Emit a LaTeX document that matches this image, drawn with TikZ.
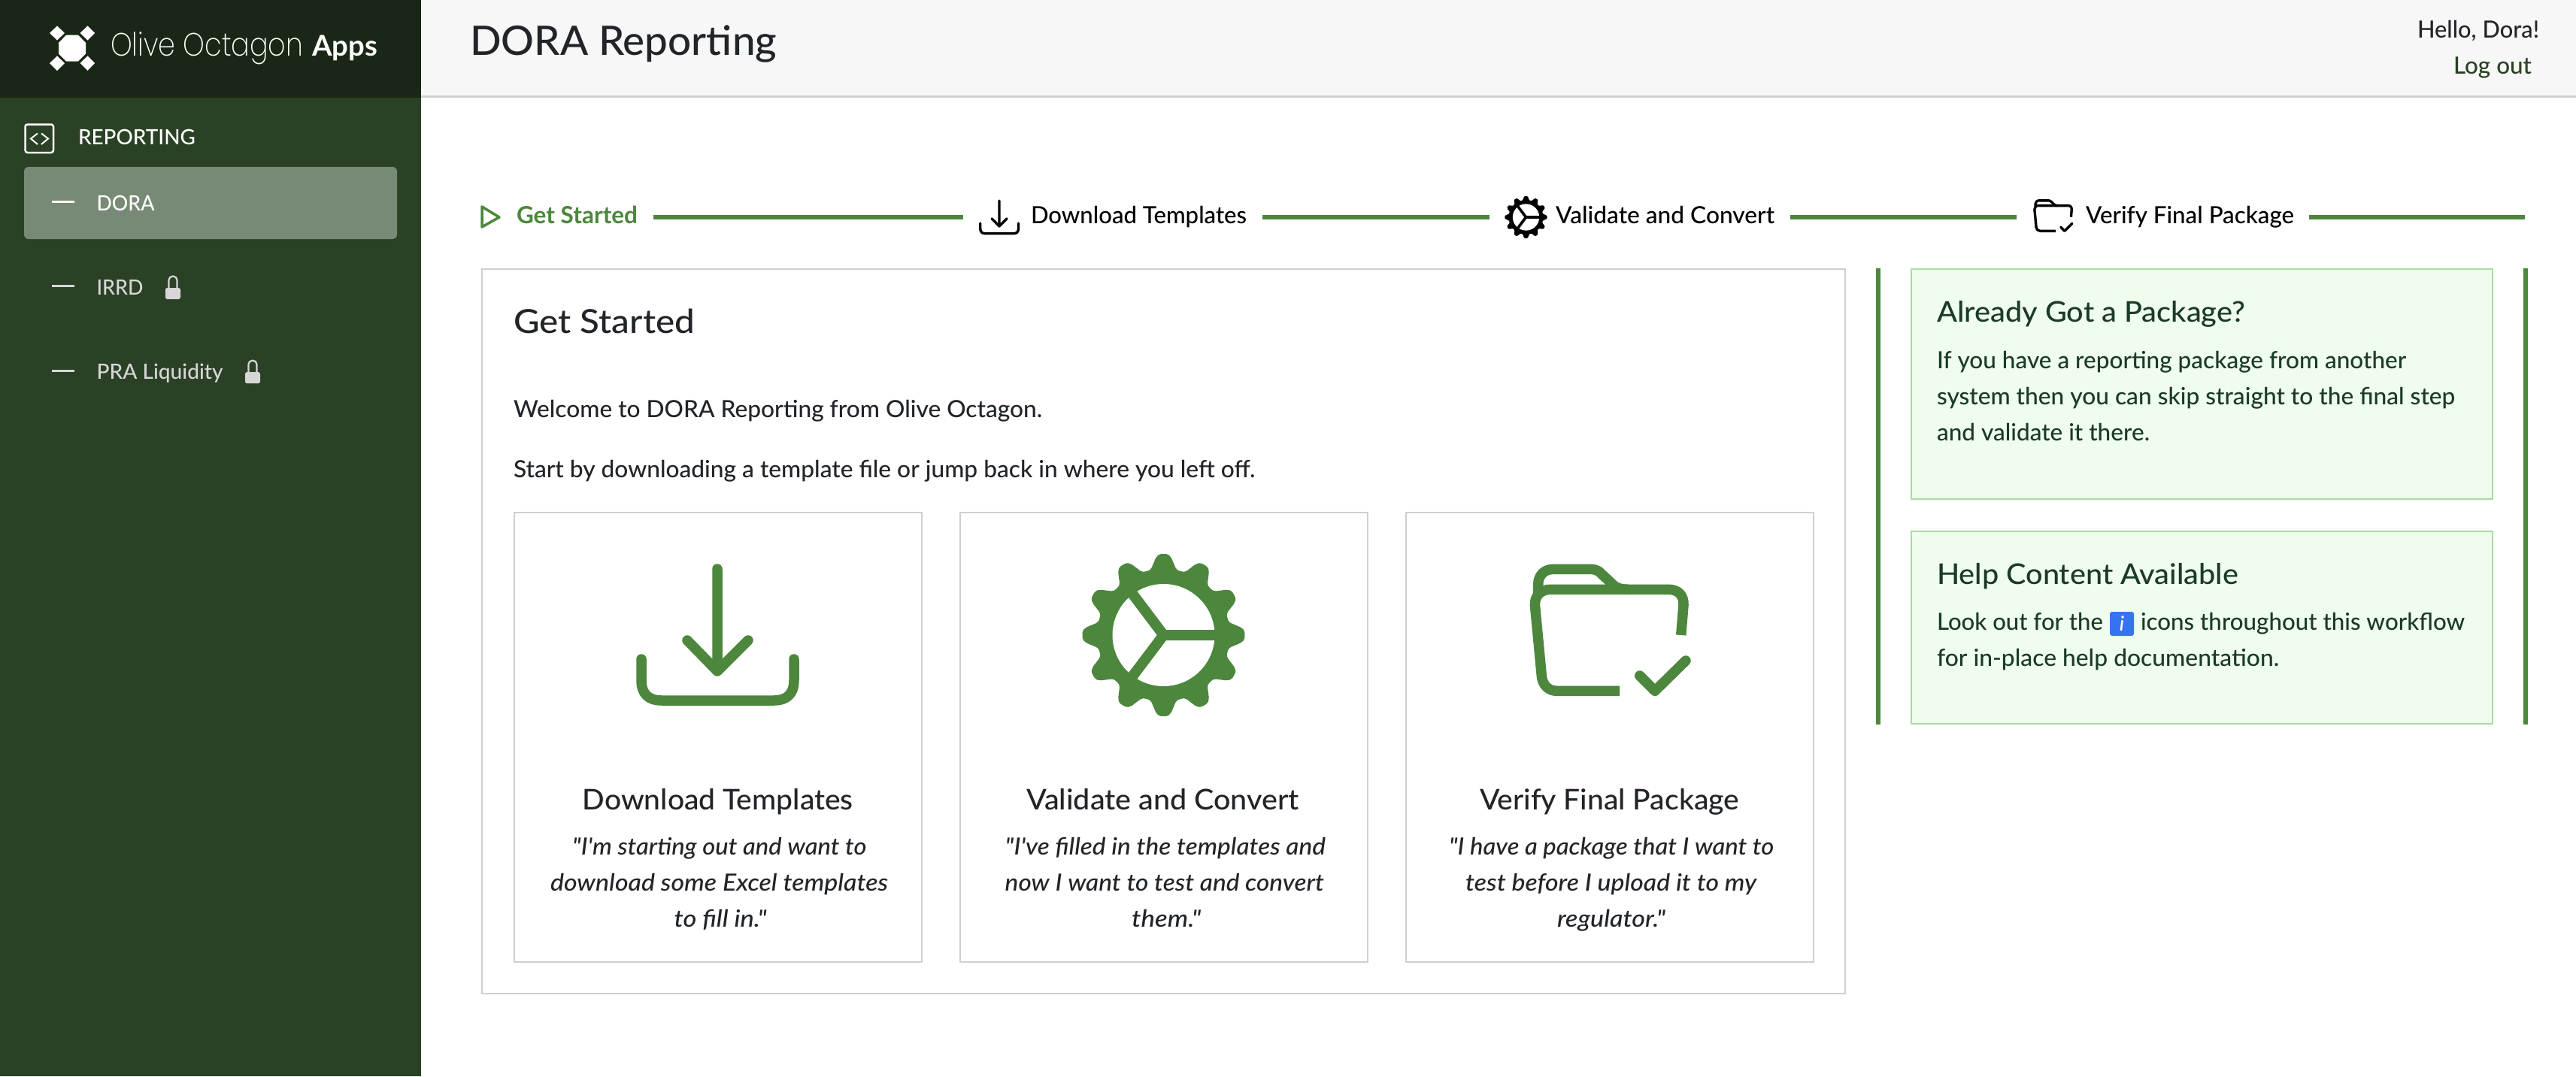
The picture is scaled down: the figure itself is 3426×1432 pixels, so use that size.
\documentclass[tikz,border=0pt]{standalone}
\usepackage{fontspec}
\usepackage{graphicx}
\newfontfamily\lato{Lato Medium}[ItalicFont={Lato Medium Italic},BoldFont={Lato Bold}]
\newfontfamily\thinfont{Poppins ExtraLight}
\definecolor{sidebar}{HTML}{2A4125}
\definecolor{sidetop}{HTML}{1A2716}
\definecolor{sidehi}{HTML}{778A75}
\definecolor{brand}{HTML}{4C873D}
\definecolor{greenfill}{HTML}{EFFEEC}
\definecolor{greenedge}{HTML}{A8DDA0}
\definecolor{inktext}{HTML}{212529}
\definecolor{boxtext}{HTML}{1B3A27}
\definecolor{edgegrey}{HTML}{CFCFCF}
\definecolor{navgrey}{HTML}{D6D6D6}
\definecolor{headbg}{HTML}{F7F7F7}
\definecolor{infoblue}{HTML}{3573F0}
\makeatletter
\newcommand\fitw[2]{\setbox0=\hbox{#2}\dimen0=\wd0 \edef\fw{\strip@pt\dimen0}\scalebox{\fpeval{#1/\fw}}[1]{\box0}}
\makeatother
\newcommand\fsz[1]{\fontsize{#1}{#1}\selectfont}
\tikzset{
  x=1pt,y=-1pt,
  declare function={gc(\a)=(cos(12*\a)+1)/2; gr(\a)=88+20*(3*gc(\a)^2-2*gc(\a)^3);},
  lbl/.style={inner sep=0pt,outer sep=0pt,anchor=base west,text=inktext},
  lblc/.style={lbl,anchor=base},
  stepl/.style={lbl,font=\lato\fsz{31.5},text=black},
  cardt/.style={lblc,font=\lato\fsz{38}},
  quote/.style={lblc,font=\lato\itshape\fsz{31.5}},
  boxh/.style={lbl,font=\lato\fsz{38},text=boxtext},
  boxb/.style={lbl,font=\lato\fsz{31.5},text=boxtext},
  nav/.style={lbl,font=\lato\fsz{28},text=white},
  navoff/.style={nav,text=navgrey},
  stepline/.style={draw=brand,line width=6pt},
  card/.style={draw=edgegrey,line width=2pt,fill=white},
  sidebar rule/.style={draw=brand,line width=5.5pt},
  greenbox/.style={draw=greenedge,line width=2.5pt,fill=greenfill},
}
\newcommand\dlicon[4]{\begin{scope}[shift={(#1,#2)},scale=#3]
  \draw[#4,line width=\fpeval{13.5*#3}pt,line cap=round,line join=round]
    (0,-88)--(0,48) (-40,7)--(0,48)--(41,7)
    (-101,32)--(-101,60) .. controls (-101,78) and (-92,87) .. (-74,87)
    -- (75,87) .. controls (93,87) and (102,78) .. (102,60) -- (102,32);
\end{scope}}
\newcommand\gearicon[4]{\begin{scope}[shift={(#1,#2)},scale=#3]
  \fill[#4] plot[samples at={0,2,...,358}] (\x:{gr(\x)}) -- cycle;
  \fill[white] (0,0) circle[radius=68];
  \draw[#4,line width=\fpeval{14*#3}pt] (72,0)--(0,0) (127:72)--(0,0)--(-127:72);
\end{scope}}
\newcommand\foldericon[4]{\begin{scope}[shift={(#1,#2)},scale=#3]
  \draw[#4,line width=\fpeval{13.5*#3}pt,line join=round]
    (93.7,7)--(97,-33) .. controls (97.5,-46) and (90,-53.7) .. (77,-53.7)
    -- (-80,-53.7) .. controls (-93,-53.7) and (-101,-45) .. (-100.6,-33)
    -- (-91.6,62) .. controls (-90.5,73) and (-83,81.3) .. (-71.3,81.3) -- (12,81.3);
  \draw[#4,line width=\fpeval{13.5*#3}pt,line join=round]
    (-96.3,-48)--(-96.3,-60) .. controls (-96.3,-72) and (-89,-80.7) .. (-75.6,-80.7)
    -- (-26.6,-80.7) .. controls (-20,-80.7) and (-15,-78) .. (-12.4,-74.7)
    -- (5.5,-58) .. controls (10,-55) and (16,-53.7) .. (23.4,-53.7);
  \draw[#4,line width=\fpeval{13.5*#3}pt,line cap=round,line join=round]
    (38.7,61)--(59,81.3)--(100,41);
\end{scope}}
\newcommand\lockicon[2]{
  \fill[navgrey,rounded corners=2.5pt] (#1,#2+16.5) rectangle (#1+20,#2+31.5);
  \draw[navgrey,line width=2.2pt] (#1+4.5,#2+18) -- (#1+4.5,#2+6) arc[start angle=180,end angle=0,x radius=5.5,y radius=-5] -- (#1+15.5,#2+18);
}
\begin{document}
\begin{tikzpicture}
\useasboundingbox (0,0) rectangle (3426,1432);
\fill[white] (0,0) rectangle (3426,1432);
% header
\fill[headbg] (560,0) rectangle (3426,128);
\fill[edgegrey] (560,127) rectangle (3426,130);
\node[lbl,font=\lato\fsz{54}] (title) at (625,73) {\fitw{408}{DORA Reporting}};
\node[lbl,font=\lato\fsz{31.5}] (hello) at (3215,50) {\fitw{162}{Hello, Dora!}};
\node[lbl,font=\lato\fsz{31.5},text=sidebar] (logout) at (3263,98) {\fitw{104}{Log out}};
% sidebar
\fill[sidebar] (0,0) rectangle (560,1432);
\fill[sidetop] (0,0) rectangle (560,130);
\fill[white] (78,57)--(88,46.5)--(104,46.5)--(114,57)--(114,71.5)--(104,81.7)--(88,81.7)--(78,71.5)--cycle;
\fill[white] (66,44)--(76,34.5)--(86,44)--(76,53.5)--cycle;
\fill[white] (106.5,44)--(116.5,34.5)--(126,44)--(116.5,53.5)--cycle;
\fill[white] (66,84)--(76,74.5)--(86,84)--(76,94)--cycle;
\fill[white] (106.5,84)--(116.5,74.5)--(126,84)--(116.5,94)--cycle;
\node[lbl,font=\thinfont\fsz{43},text=white] (brand1) at (147,74) {\fitw{256}{Olive Octagon}};
\node[lbl,font=\lato\bfseries\fsz{38},text=white] (brand2) at (415,74) {\fitw{87}{Apps}};
\draw[white,line width=2.5pt,rounded corners=3pt] (33.5,165.5) rectangle (71,203);
\draw[white,line width=2pt] (50,177.5)--(41,184.5)--(50,192) (55,177.5)--(64,184.5)--(55,192);
\node[nav] (navrep) at (104,192.5) {\fitw{156}{REPORTING}};
\fill[sidehi,rounded corners=6pt] (32,222) rectangle (528,318);
\draw[white,line width=3pt] (69,268)--(99,268);
\node[nav] (navdora) at (128.6,280) {\fitw{77}{DORA}};
\draw[navgrey,line width=3pt] (69,380)--(99,380);
\node[navoff] (navirrd) at (128.6,392) {\fitw{62}{IRRD}};
\lockicon{220}{366.5}
\draw[navgrey,line width=3pt] (69,493)--(99,493);
\node[navoff] (navpra) at (128.6,504.5) {\fitw{168}{PRA Liquidity}};
\lockicon{326}{478.6}
% stepper
\coordinate (stepy) at (0,289);
\coordinate (iconDL) at (1302,289);
\coordinate (iconGR) at (2002,289);
\coordinate (iconFO) at (2704,289);
\coordinate (stepend) at (3358,289);
\draw[brand,line width=3.5pt,line join=round] (641,275)--(664,289)--(641,302)--cycle;
\node[stepl,text=brand,font=\lato\bfseries\fsz{31.5}] (s1) at (687,297) {\fitw{161}{Get Started}};
\dlicon{1329}{289}{0.25}{black}
\node[stepl] (s2) at (1371,297) {\fitw{287}{Download Templates}};
\gearicon{2029.5}{289}{0.26}{black}
\node[stepl] (s3) at (2069,297) {\fitw{291}{Validate and Convert}};
\foldericon{2731}{287}{0.25}{black}
\node[stepl] (s4) at (2774,297) {\fitw{277}{Verify Final Package}};
\draw[stepline] ([xshift=21pt]s1.east |- stepy) -- ([xshift=-21pt]iconDL);
\draw[stepline] ([xshift=21pt]s2.east |- stepy) -- ([xshift=-21pt]iconGR);
\draw[stepline] ([xshift=21pt]s3.east |- stepy) -- ([xshift=-22pt]iconFO);
\draw[stepline] ([xshift=20pt]s4.east |- stepy) -- (stepend);
% main panel
\draw[card] (641,358) rectangle (2454,1322);
\node[lbl,font=\lato\fsz{44}] (h1) at (683,443) {\fitw{241}{Get Started}};
\node[lbl,font=\lato\fsz{31.5}] (p1) at (683,555) {\fitw{703}{Welcome to DORA Reporting from Olive Octagon.}};
\node[lbl,font=\lato\fsz{31.5}] (p2) at (683,635) {\fitw{986}{Start by downloading a template file or jump back in where you left off.}};
\draw[card] (683.5,682) rectangle (1226,1280);
\draw[card] (1276.5,682) rectangle (1819,1280);
\draw[card] (1869.5,682) rectangle (2412,1280);
\dlicon{954}{845}{1}{brand}
\gearicon{1547.5}{845}{1}{brand}
\foldericon{2142}{838}{1}{brand}
\node[cardt] (c1t) at (954.7,1077) {\fitw{360}{Download Templates}};
\node[quote] (c1a) at (956.7,1137) {\fitw{391}{"I'm starting out and want to}};
\node[quote] (c1b) at (956.5,1185) {\fitw{449}{download some Excel templates}};
\node[quote] (c1c) at (958.2,1233) {\fitw{123}{to fill in."}};
\node[cardt] (c2t) at (1546.5,1077) {\fitw{363}{Validate and Convert}};
\node[quote] (c2a) at (1549.7,1137) {\fitw{426}{"I've filled in the templates and}};
\node[quote] (c2b) at (1548.7,1185) {\fitw{424}{now I want to test and convert}};
\node[quote] (c2c) at (1551.2,1233) {\fitw{92}{them."}};
\node[cardt] (c3t) at (2140.5,1077) {\fitw{345}{Verify Final Package}};
\node[quote] (c3a) at (2143,1137) {\fitw{432}{"I have a package that I want to}};
\node[quote] (c3b) at (2142.7,1185) {\fitw{387}{test before I upload it to my}};
\node[quote] (c3c) at (2143,1233) {\fitw{144}{regulator."}};
% right column
\draw[sidebar rule] (2498,357) -- (2498,964);
\draw[sidebar rule] (3359,357) -- (3359,964);
\draw[greenbox] (2542,358) rectangle (3315,664);
\draw[greenbox] (2542,707) rectangle (3315,963);
\node[boxh] (b1h) at (2576,428.5) {\fitw{410}{Already Got a Package?}};
\node[boxb] (b1a) at (2576,490) {\fitw{624}{If you have a reporting package from another}};
\node[boxb] (b1b) at (2576,538) {\fitw{689}{system then you can skip straight to the final step}};
\node[boxb] (b1c) at (2576,586) {\fitw{283}{and validate it there.}};
\node[boxh] (b2h) at (2576,777) {\fitw{401}{Help Content Available}};
\node[boxb] (b2a) at (2576,838) {\fitw{221}{Look out for the}};
\node[fill=infoblue,rounded corners=3pt,minimum width=32pt,minimum height=32pt,inner sep=0pt,anchor=center,text=white,font=\lato\itshape\fsz{27}] (info) at (2822,830) {i};
\node[boxb] (b2b) at (2847,838) {\fitw{431}{icons throughout this workflow}};
\node[boxb] (b2c) at (2576,886) {\fitw{455}{for in-place help documentation.}};
\end{tikzpicture}
\end{document}
